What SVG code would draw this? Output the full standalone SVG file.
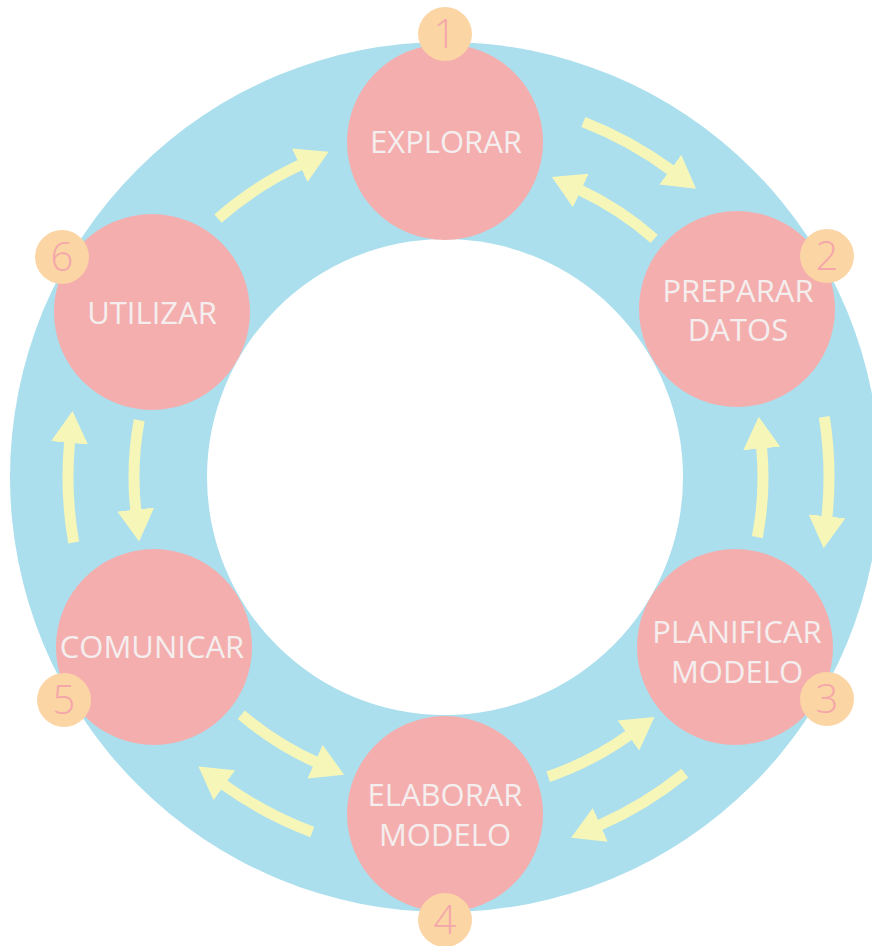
<svg xmlns="http://www.w3.org/2000/svg" width="872" height="946" viewBox="0 0 872 946">
  <style>
    .ring { fill: #abdfed; }
    .hole { fill: #ffffff; }
    .node { fill: #f5aeae; }
    .label { font-family: "Open Sans", "Noto Sans", "Liberation Sans", sans-serif; font-size: 31px; fill: #f4eeee; text-anchor: middle; }
    .badge { fill: #fcd5a5; }
    .num { font-family: "Open Sans", "Noto Sans", "Liberation Sans", sans-serif; font-size: 40px; font-weight: 300; fill: #f4a6aa; text-anchor: middle; }
    .flow { fill: none; stroke: #f7f6b9; stroke-width: 11; stroke-linecap: butt; marker-end: url(#head); }
  </style>
  <defs>
    <marker id="head" markerUnits="userSpaceOnUse" viewBox="0 0 32 37" markerWidth="32" markerHeight="37" refX="1" refY="18.5" orient="auto">
      <path d="M0,0 L32,18.5 L0,37 Z" fill="#f7f6b9"/>
    </marker>
  </defs>

  <!-- cycle ring -->
  <g id="ring">
    <circle class="ring" cx="445" cy="477" r="435"/>
    <circle class="hole" cx="445" cy="477" r="238"/>
  </g>

  <!-- curved arrows between stages -->
  <g id="connectors">
    <path class="flow" d="M583.4,122.0 A381,381 0 0 1 671.1,170.3"/>
    <path class="flow" d="M654.2,238.8 A317,317 0 0 0 579.9,190.1"/>
    <path class="flow" d="M824.3,416.9 A384,384 0 0 1 826.9,517.3"/>
    <path class="flow" d="M757.3,537.1 A318,318 0 0 0 761.6,447.5"/>
    <path class="flow" d="M684.8,773.1 A381,381 0 0 1 599.4,825.3"/>
    <path class="flow" d="M548.2,776.7 A317,317 0 0 0 629.2,735.0"/>
    <path class="flow" d="M312.3,832.0 A379,379 0 0 1 223.6,784.6"/>
    <path class="flow" d="M241.3,714.7 A313,313 0 0 0 315.9,762.1"/>
    <path class="flow" d="M73.7,542.5 A377,377 0 0 1 69.6,441.9"/>
    <path class="flow" d="M139.2,420.3 A311,311 0 0 0 135.8,510.6"/>
    <path class="flow" d="M218.0,218.6 A344,344 0 0 1 300.6,164.8"/>
  </g>

  <g id="explorar">
    <circle class="node" cx="445" cy="142" r="98"/>
    <text class="label" x="446" y="153">EXPLORAR</text>
    <circle class="badge" cx="445" cy="34" r="27"/>
    <text class="num" x="445" y="48">1</text>
  </g>

  <g id="preparar-datos">
    <circle class="node" cx="737" cy="309" r="98"/>
    <text class="label" x="738" y="302">PREPARAR</text>
    <text class="label" x="738" y="341">DATOS</text>
    <circle class="badge" cx="827" cy="256" r="27"/>
    <text class="num" x="827" y="270">2</text>
  </g>

  <g id="planificar-modelo">
    <circle class="node" cx="735" cy="647" r="98"/>
    <text class="label" x="737" y="643">PLANIFICAR</text>
    <text class="label" x="737" y="683">MODELO</text>
    <circle class="badge" cx="827" cy="699" r="27"/>
    <text class="num" x="827" y="713">3</text>
  </g>

  <g id="elaborar-modelo">
    <circle class="node" cx="445" cy="814" r="98"/>
    <text class="label" x="445" y="806">ELABORAR</text>
    <text class="label" x="445" y="846">MODELO</text>
    <circle class="badge" cx="445" cy="920" r="27"/>
    <text class="num" x="445" y="934">4</text>
  </g>

  <g id="comunicar">
    <circle class="node" cx="154" cy="647" r="98"/>
    <text class="label" x="152" y="658">COMUNICAR</text>
    <circle class="badge" cx="64" cy="700" r="27"/>
    <text class="num" x="64" y="714">5</text>
  </g>

  <g id="utilizar">
    <circle class="node" cx="152" cy="312" r="98"/>
    <text class="label" x="152" y="324">UTILIZAR</text>
    <circle class="badge" cx="62" cy="257" r="27"/>
    <text class="num" x="62" y="271">6</text>
  </g>
</svg>
